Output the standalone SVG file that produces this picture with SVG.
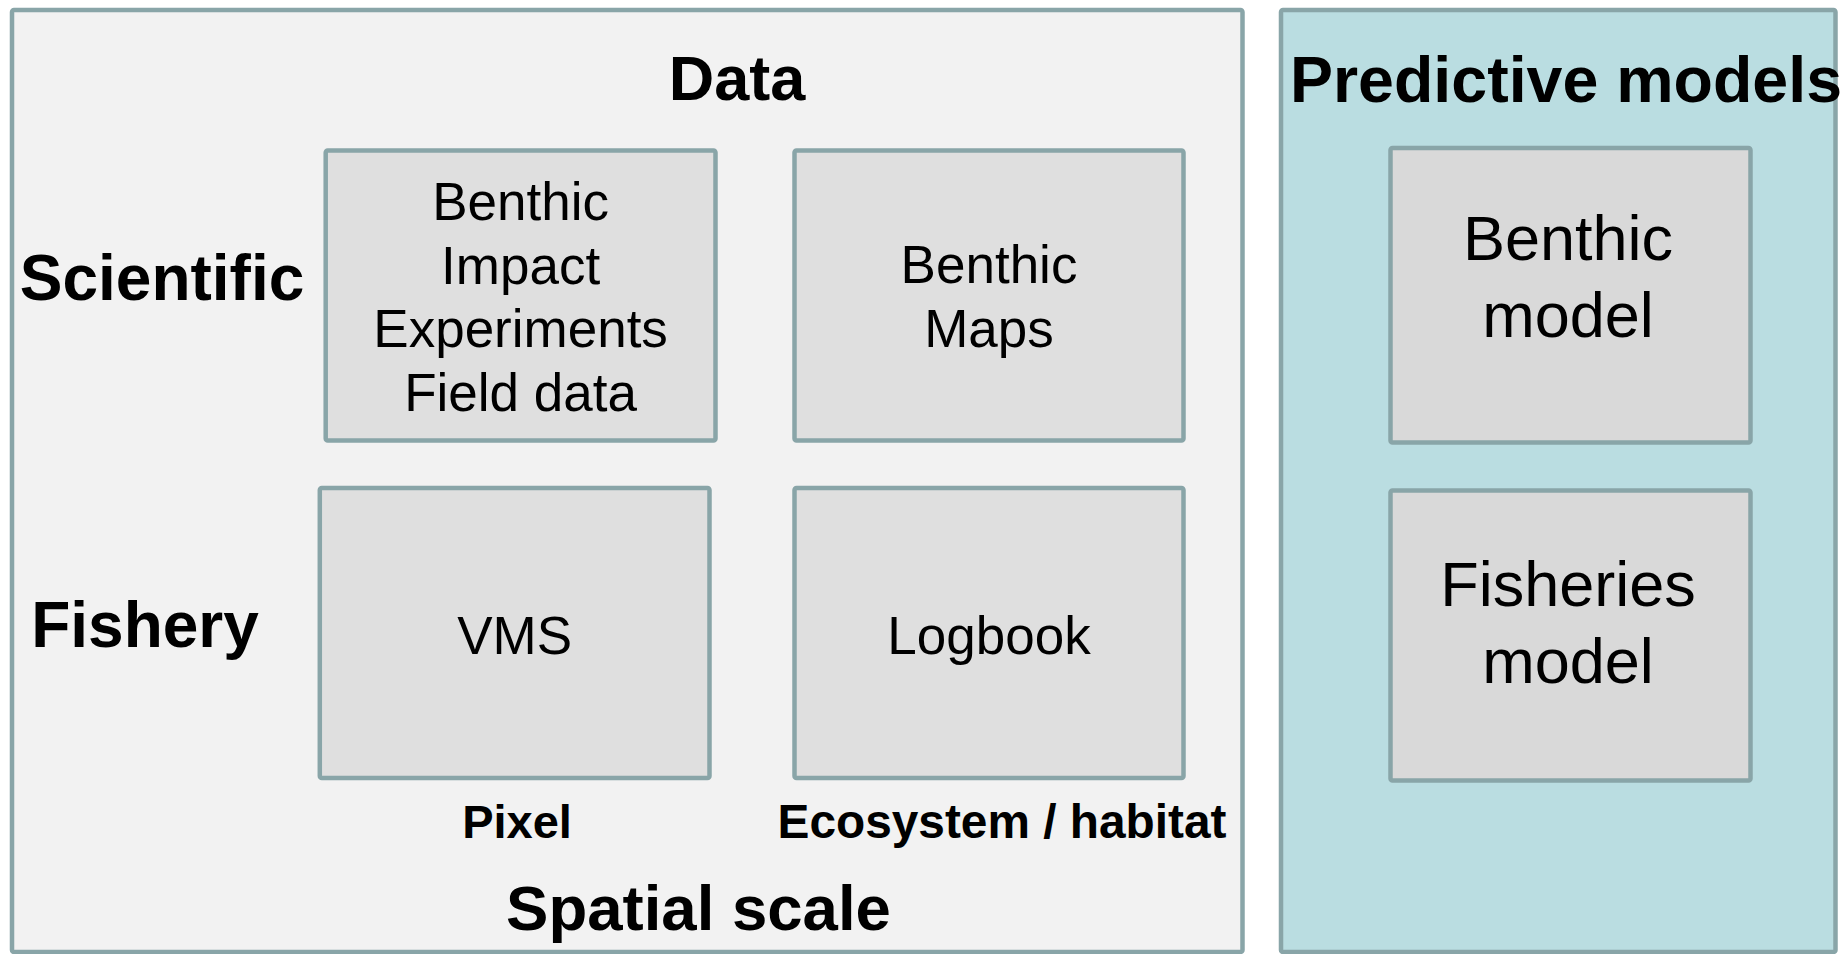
<svg xmlns="http://www.w3.org/2000/svg" width="1844" height="954" viewBox="0 0 1844 954">
<style>
.panel{stroke:#89a5a8;stroke-width:4.5}
.box{stroke:#89a5a8;stroke-width:4.5}
.t{font-family:"Liberation Sans",Arial,sans-serif;fill:#000;text-anchor:middle}
.b{font-weight:bold}
.n{font-size:53px}
.m{font-size:63px}
</style>
<rect x="0" y="0" width="1844" height="954" fill="#ffffff"/>
<g id="data-panel">
<rect class="panel" x="12" y="10" width="1230.5" height="942" rx="2" fill="#f2f2f2"/>
<text class="t b" x="737" y="100" font-size="63">Data</text>
<text class="t b" x="162" y="300" font-size="64">Scientific</text>
<text class="t b" x="145" y="647" font-size="64">Fishery</text>
<text class="t b" x="517" y="838" font-size="47">Pixel</text>
<text class="t b" x="1002" y="838" font-size="47.8">Ecosystem / habitat</text>
<text class="t b" x="698.5" y="930" font-size="63.5">Spatial scale</text>
</g>
<g id="benthic-impact">
<rect class="box" x="325.7" y="150.5" width="389.8" height="290" rx="2" fill="#dfdfdf"/>
<text class="t n" x="520.6" y="220">Benthic</text>
<text class="t n" x="520.6" y="284">Impact</text>
<text class="t n" x="520.6" y="347">Experiments</text>
<text class="t n" x="520.6" y="411">Field data</text>
</g>
<g id="benthic-maps">
<rect class="box" x="794.5" y="150.5" width="389" height="290" rx="2" fill="#dfdfdf"/>
<text class="t n" x="989" y="283">Benthic</text>
<text class="t n" x="989" y="347">Maps</text>
</g>
<g id="vms">
<rect class="box" x="319.8" y="488" width="389.7" height="290" rx="2" fill="#dfdfdf"/>
<text class="t n" x="514.6" y="654">VMS</text>
</g>
<g id="logbook">
<rect class="box" x="794.5" y="488" width="389" height="290" rx="2" fill="#dfdfdf"/>
<text class="t n" x="989" y="654">Logbook</text>
</g>
<g id="models-panel">
<rect class="panel" x="1281" y="10" width="554.5" height="942" rx="2" fill="#badde1"/>
<text class="t b" x="1566" y="102" font-size="64.5">Predictive models</text>
</g>
<g id="benthic-model">
<rect class="box" x="1390.5" y="148" width="360" height="294.5" rx="2" fill="#d9d9d9"/>
<text class="t m" x="1568" y="260">Benthic</text>
<text class="t m" x="1568" y="337">model</text>
</g>
<g id="fisheries-model">
<rect class="box" x="1390.5" y="490.5" width="360" height="290" rx="2" fill="#d9d9d9"/>
<text class="t m" x="1568" y="606">Fisheries</text>
<text class="t m" x="1568" y="683">model</text>
</g>
<g id="connectors"></g>
</svg>
